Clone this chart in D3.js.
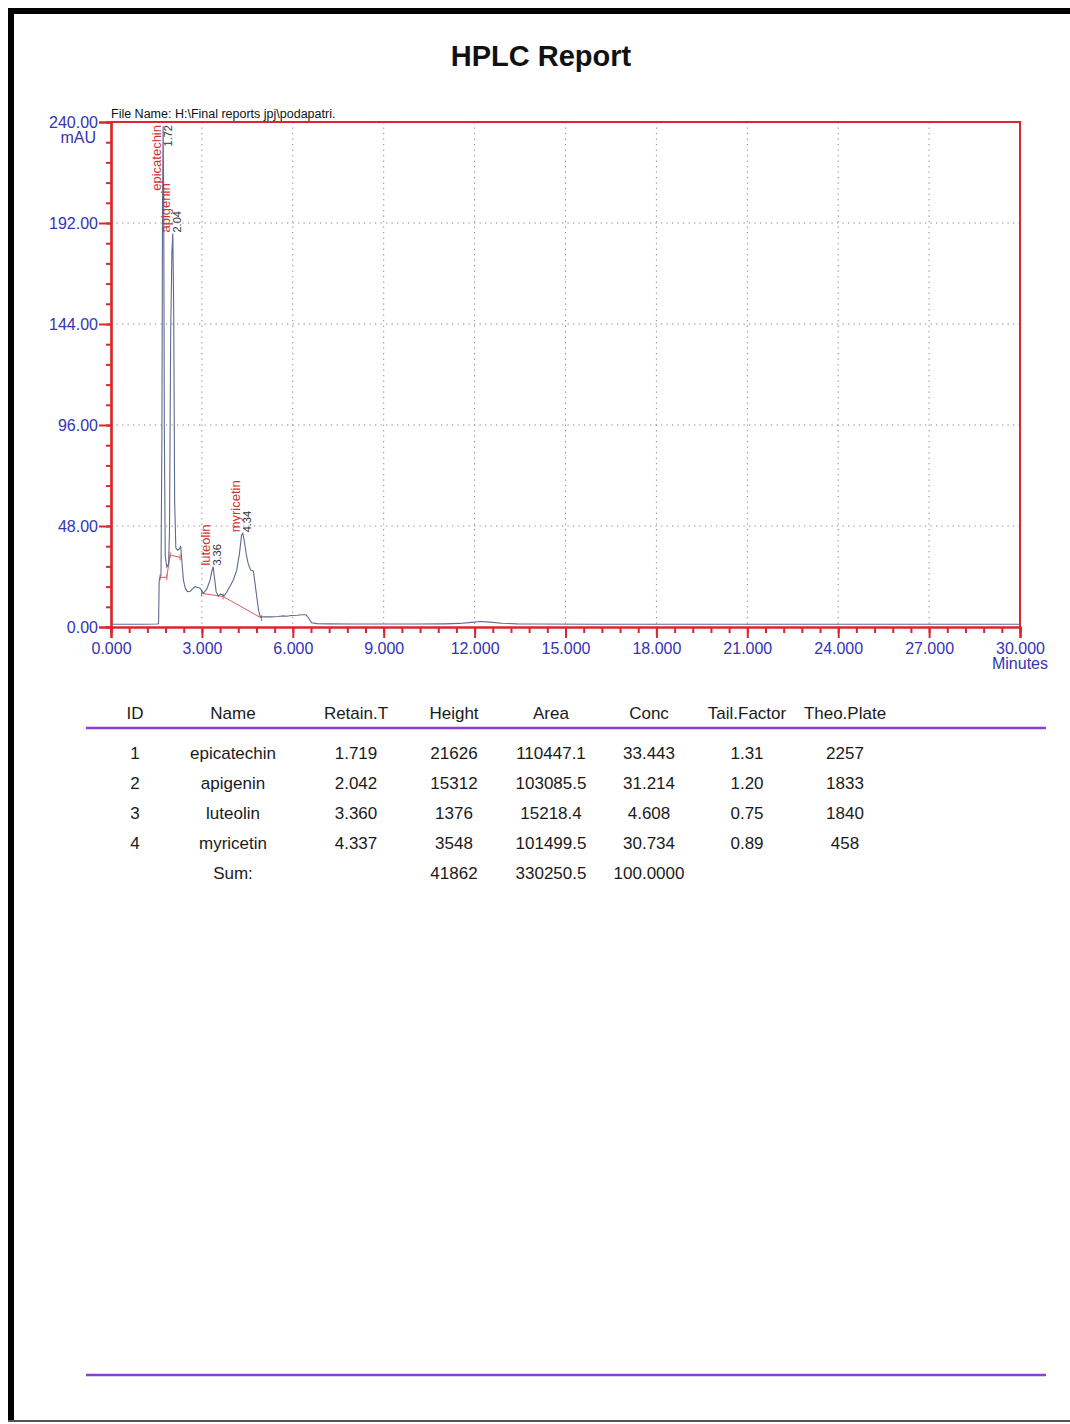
<!DOCTYPE html>
<html>
<head>
<meta charset="utf-8">
<title>HPLC Report</title>
<script src="https://cdn.jsdelivr.net/npm/d3@7"></script>
<style>
  html, body { margin: 0; padding: 0; background: #fff; }
  svg { display: block; font-family: "Liberation Sans", Arial, sans-serif; }
</style>
</head>
<body>
<svg id="report" width="1070" height="1424"></svg>
<script>
// ---- chromatogram trace: retention time (min) and absorbance (mAU) ----
const traceTime = [0, 0.5, 1.0, 1.5, 1.57, 1.59, 1.62, 1.65, 1.68, 1.70, 1.72, 1.74, 1.76, 1.79, 1.84, 1.90, 1.93, 1.97, 2.01, 2.04, 2.07, 2.10, 2.14, 2.20, 2.26, 2.30, 2.34, 2.39, 2.45, 2.52, 2.62, 2.70, 2.77, 2.86, 2.94, 3.05, 3.16, 3.27, 3.33, 3.37, 3.42, 3.47, 3.54, 3.62, 3.73, 3.82, 3.92, 4.04, 4.15, 4.24, 4.31, 4.35, 4.40, 4.47, 4.53, 4.61, 4.70, 4.76, 4.81, 4.87, 4.92, 5.10, 5.30, 5.50, 5.70, 5.80, 5.95, 6.15, 6.30, 6.44, 6.52, 6.62, 6.80, 7.20, 8.0, 9.0, 10.0, 11.0, 11.5, 11.9, 12.2, 12.5, 12.9, 13.4, 14.0, 16.0, 20.0, 25.0, 30.0];
const traceAbs  = [1.3, 1.3, 1.3, 1.4, 1.5, 22.0, 23.8, 24.5, 90.0, 200.0, 238.0, 200.0, 95.0, 34.0, 28.5, 30.0, 45.0, 140.0, 178.0, 187.0, 150.0, 60.0, 37.5, 36.5, 37.2, 38.5, 31.0, 22.3, 18.5, 16.8, 17.0, 18.2, 19.2, 18.8, 18.4, 16.0, 18.0, 22.3, 26.5, 28.7, 23.0, 16.8, 14.7, 15.7, 14.7, 16.5, 19.2, 22.5, 27.0, 35.0, 43.7, 44.5, 41.0, 34.0, 30.0, 27.0, 26.5, 20.0, 14.4, 8.0, 4.9, 4.8, 4.8, 5.0, 5.3, 5.1, 5.5, 5.6, 5.8, 5.8, 4.3, 2.0, 1.6, 1.5, 1.4, 1.4, 1.4, 1.5, 1.7, 2.2, 2.6, 2.3, 1.8, 1.5, 1.4, 1.3, 1.3, 1.3, 1.3];

// integration baselines drawn under the peaks
const baseline1Time = [1.62, 1.84, 1.95, 2.28];
const baseline1Abs  = [23.6, 23.6, 34.2, 33.1];
const baseline2Time = [2.99, 3.70, 4.97];
const baseline2Abs  = [16.0, 14.5, 4.2];

// identified peaks
const peakNames = ["epicatechin", "apigenin", "luteolin", "myricetin"];
const peakTimes = [1.72, 2.04, 3.36, 4.34];

// axis ticks
const xTickValues = [0, 3, 6, 9, 12, 15, 18, 21, 24, 27, 30];
const yTickValues = [0, 48, 96, 144, 192, 240];

// results table
const tableHeaders = ["ID", "Name", "Retain.T", "Height", "Area", "Conc", "Tail.Factor", "Theo.Plate"];
const ids          = ["1", "2", "3", "4"];
const names        = ["epicatechin", "apigenin", "luteolin", "myricetin"];
const retainTimes  = ["1.719", "2.042", "3.360", "4.337"];
const heights      = ["21626", "15312", "1376", "3548"];
const areas        = ["110447.1", "103085.5", "15218.4", "101499.5"];
const concs        = ["33.443", "31.214", "4.608", "30.734"];
const tailFactors  = ["1.31", "1.20", "0.75", "0.89"];
const theoPlates   = ["2257", "1833", "1840", "458"];
const sumRow       = ["", "Sum:", "", "41862", "330250.5", "100.0000", "", ""];

const fileName = "File Name: H:\\Final reports jpj\\podapatri.";

// ---------------------------------------------------------------------
const svg = d3.select("#report");
const RED = "#d8282a", BLUE = "#3434b4", PURPLE = "#8a3fd8", TRACE = "#5e6a8e";

svg.append("rect").attr("width", 1070).attr("height", 1424).attr("fill", "#fff");

// page frame
svg.append("rect").attr("x", 8).attr("y", 8).attr("width", 1062).attr("height", 6).attr("fill", "#000");
svg.append("rect").attr("x", 8).attr("y", 8).attr("width", 6).attr("height", 1414).attr("fill", "#000");
svg.append("rect").attr("x", 8).attr("y", 1420).attr("width", 1062).attr("height", 2).attr("fill", "#555");

svg.append("text").attr("x", 541).attr("y", 66).attr("text-anchor", "middle")
  .attr("font-size", 29).attr("font-weight", "bold").attr("fill", "#111").text("HPLC Report");

// plot area
const plotLeft = 111, plotRight = 1020, plotTop = 122, plotBottom = 627;
const x = d3.scaleLinear().domain([0, 30]).range([plotLeft, plotRight]);
const y = d3.scaleLinear().domain([0, 240]).range([plotBottom, plotTop]);

const g = svg.append("g");

// dotted grid
g.selectAll(".gx").data(xTickValues.filter(v => v > 0 && v < 30)).join("line")
  .attr("x1", d => x(d)).attr("x2", d => x(d)).attr("y1", plotTop).attr("y2", plotBottom)
  .attr("stroke", "#8a8a8a").attr("stroke-width", 1).attr("stroke-dasharray", "1.3,4.2");
g.selectAll(".gy").data(yTickValues.filter(v => v > 0 && v < 240)).join("line")
  .attr("x1", plotLeft).attr("x2", plotRight).attr("y1", d => y(d)).attr("y2", d => y(d))
  .attr("stroke", "#8a8a8a").attr("stroke-width", 1).attr("stroke-dasharray", "1.3,4.2");

// frame (top and right)
g.append("path").attr("d", `M${plotLeft},${plotTop}H${plotRight}V${plotBottom}`)
  .attr("fill", "none").attr("stroke", RED).attr("stroke-width", 2);

// x axis
const xMinor = d3.range(0, 30.001, 0.6);
const xg = g.append("g").attr("transform", `translate(0,${plotBottom})`)
  .call(d3.axisBottom(x).tickValues(xMinor).tickSize(6).tickFormat(""));
const xg2 = g.append("g").attr("transform", `translate(0,${plotBottom})`)
  .call(d3.axisBottom(x).tickValues(xTickValues).tickSize(11).tickPadding(5).tickFormat(d3.format(".3f")));
[xg, xg2].forEach(a => {
  a.select(".domain").attr("stroke", RED).attr("stroke-width", 2.2);
  a.selectAll(".tick line").attr("stroke", RED).attr("stroke-width", 2);
  a.selectAll("text").attr("fill", BLUE).attr("font-size", 16)
    .attr("font-family", "'Liberation Sans', Arial, sans-serif");
});
svg.append("text").attr("x", plotRight).attr("y", 669).attr("text-anchor", "middle")
  .attr("font-size", 16).attr("fill", BLUE).text("Minutes");

// y axis
const yMinor = d3.range(0, 240.001, 9.6);
const yg = g.append("g").attr("transform", `translate(${plotLeft},0)`)
  .call(d3.axisLeft(y).tickValues(yMinor).tickSize(5).tickFormat(""));
const yg2 = g.append("g").attr("transform", `translate(${plotLeft},0)`)
  .call(d3.axisLeft(y).tickValues(yTickValues).tickSize(12).tickPadding(1).tickFormat(d3.format(".2f")));
[yg, yg2].forEach(a => {
  a.select(".domain").attr("stroke", RED).attr("stroke-width", 2.2);
  a.selectAll(".tick line").attr("stroke", RED).attr("stroke-width", 2);
  a.selectAll("text").attr("fill", BLUE).attr("font-size", 16)
    .attr("font-family", "'Liberation Sans', Arial, sans-serif");
});
svg.append("text").attr("x", 96).attr("y", 143).attr("text-anchor", "end")
  .attr("font-size", 16).attr("fill", BLUE).text("mAU");

svg.append("text").attr("x", plotLeft).attr("y", 118).attr("font-size", 12.5)
  .attr("fill", "#111").text(fileName);

// integration baselines
const line = d3.line().x(d => x(d[0])).y(d => y(d[1]));
[[baseline1Time, baseline1Abs], [baseline2Time, baseline2Abs]].forEach(([ts, vs]) => {
  const pts = ts.map((t, i) => [t, vs[i]]);
  g.append("path").attr("d", line(pts)).attr("fill", "none")
    .attr("stroke", "#e05a5a").attr("stroke-width", 1);
  g.selectAll(null).data(pts).join("line")
    .attr("x1", d => x(d[0])).attr("x2", d => x(d[0]))
    .attr("y1", d => y(d[1]) - 3).attr("y2", d => y(d[1]) + 3)
    .attr("stroke", "#e05a5a").attr("stroke-width", 1);
});

// chromatogram trace
const tracePts = traceTime.map((t, i) => [t, traceAbs[i]]);
g.append("path").attr("d", line(tracePts)).attr("fill", "none")
  .attr("stroke", TRACE).attr("stroke-width", 1.1);

// peak labels
peakTimes.forEach((t, i) => {
  const near = tracePts.filter(p => Math.abs(p[0] - t) <= 0.05);
  const apex = d3.max(near, p => p[1]);
  const px = x(t);
  const py = y(apex) - 1;
  const nameLen = peakNames[i].length * 6.2;
  const fits = py - nameLen > plotTop + 2;
  const yPos = fits ? py : plotTop + 3;
  const anchor = fits ? "start" : "end";
  svg.append("text").attr("transform", `translate(${px - 2.5},${yPos}) rotate(-90)`)
    .attr("text-anchor", anchor).attr("font-size", 13).attr("fill", "#d03434")
    .text(peakNames[i]);
  svg.append("text").attr("transform", `translate(${px + 8.5},${yPos}) rotate(-90)`)
    .attr("text-anchor", anchor).attr("font-size", 11).attr("fill", "#333")
    .text(d3.format(".2f")(t));
});

// results table
const colX = [135, 233, 356, 454, 551, 649, 747, 845];
const tg = svg.append("g").attr("font-size", 17).attr("fill", "#1a1a1a").attr("text-anchor", "middle");
tg.selectAll(".h").data(tableHeaders).join("text")
  .attr("x", (d, i) => colX[i]).attr("y", 719).text(d => d);
svg.append("line").attr("x1", 86).attr("x2", 1046).attr("y1", 728).attr("y2", 728)
  .attr("stroke", PURPLE).attr("stroke-width", 2.6);

const rows = ids.map((id, i) => [id, names[i], retainTimes[i], heights[i], areas[i], concs[i], tailFactors[i], theoPlates[i]]);
rows.push(sumRow);
rows.forEach((r, ri) => {
  tg.selectAll(null).data(r).join("text")
    .attr("x", (d, i) => colX[i]).attr("y", 759 + ri * 30).text(d => d);
});

svg.append("line").attr("x1", 86).attr("x2", 1046).attr("y1", 1375).attr("y2", 1375)
  .attr("stroke", PURPLE).attr("stroke-width", 2.6);
</script>
</body>
</html>
